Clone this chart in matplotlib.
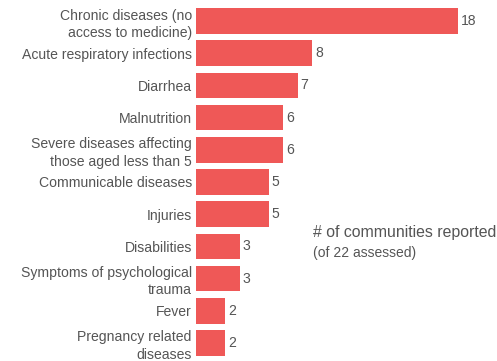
import matplotlib
matplotlib.use("Agg")
import matplotlib.pyplot as plt

categories = [
    "Chronic diseases (no\naccess to medicine)",
    "Acute respiratory infections",
    "Diarrhea",
    "Malnutrition",
    "Severe diseases affecting\nthose aged less than 5",
    "Communicable diseases",
    "Injuries",
    "Disabilities",
    "Symptoms of psychological\ntrauma",
    "Fever",
    "Pregnancy related\ndiseases",
]
values = [18, 8, 7, 6, 6, 5, 5, 3, 3, 2, 2]

bar_color = "#ef5857"
text_color = "#555555"
plt.rcParams['font.family'] = ['Liberation Sans', 'DejaVu Sans']

fig = plt.figure(figsize=(4.97, 3.61), dpi=100)
ax = fig.add_axes([196/497, 0.0053, 291/497, 0.9811])
ypos = list(range(len(categories)))
ax.barh(ypos, values, height=0.8, color=bar_color)
ax.set_xlim(0, 20)
ax.set_ylim(len(categories) - 0.5, -0.5)
ax.set_yticks(ypos)
ax.set_yticklabels(categories, fontsize=10.1, color=text_color, linespacing=1.3)
ax.tick_params(axis='y', length=0, pad=3)
ax.set_xticks([])
for s in ax.spines.values():
    s.set_visible(False)
for y, v in zip(ypos, values):
    ax.annotate(str(v), (v, y), xytext=(2, 0), textcoords='offset points',
                va='center', ha='left', fontsize=10.1, color=text_color)

fig.text(313/497, 1 - 232/361, "# of communities reported", fontsize=11.4,
         color=text_color, va='center', ha='left')
fig.text(313/497, 1 - 253/361, "(of 22 assessed)", fontsize=10,
         color=text_color, va='center', ha='left')

fig.savefig("out.png", dpi=100)
